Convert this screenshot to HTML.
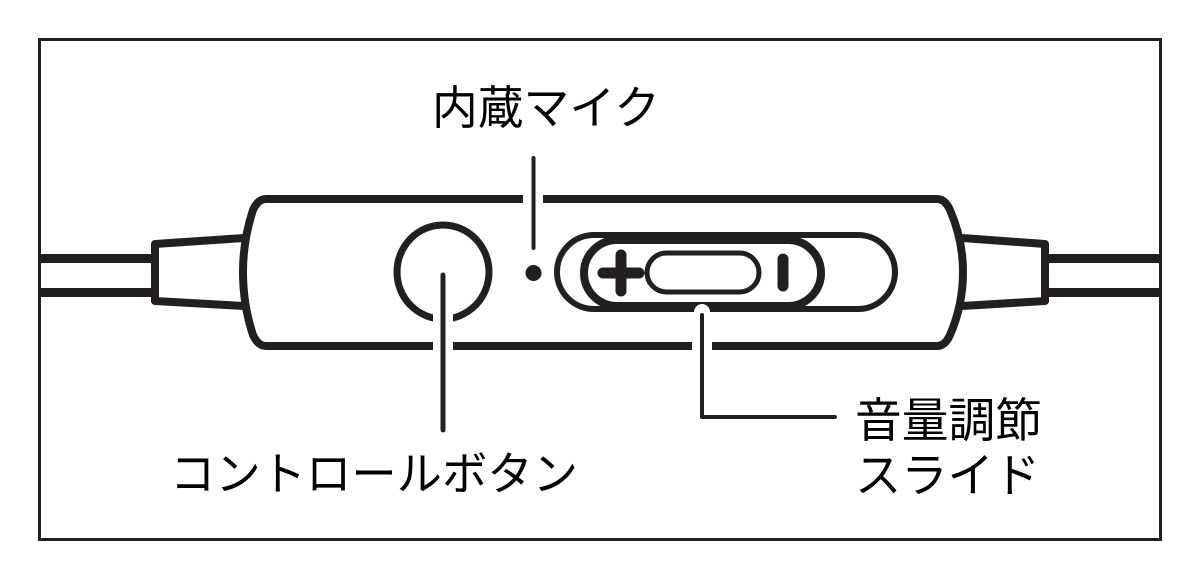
<!DOCTYPE html>
<html><head><meta charset="utf-8"><style>
html,body{margin:0;padding:0;background:#fff;}
svg{display:block;}
text{font-family:"Liberation Sans","Noto Sans CJK JP",sans-serif;fill:#000;}
</style></head><body>
<svg width="1200" height="579" viewBox="0 0 1200 579" xmlns="http://www.w3.org/2000/svg">
<rect x="39.5" y="39.5" width="1121" height="500" fill="none" stroke="#231f20" stroke-width="3"/>
<g stroke="#231f20" fill="none" stroke-linejoin="round">
<!-- cables -->
<line x1="38" y1="258.5" x2="155" y2="258.5" stroke-width="9"/>
<line x1="38" y1="292.5" x2="155" y2="292.5" stroke-width="9"/>
<line x1="1045" y1="258.5" x2="1162" y2="258.5" stroke-width="9"/>
<line x1="1045" y1="292.5" x2="1162" y2="292.5" stroke-width="9"/>
<!-- connectors -->
<path d="M244,238 L155,244 L155,301 L244,306" stroke-width="8"/>
<path d="M962,238 L1045,244 L1045,301 L962,306" stroke-width="8"/>
<!-- body -->
<path d="M266,199 L937,199 Q945,199 950,210 Q963,240 963,272 Q963,305 950,335 Q945,346 937,346 L266,346 Q258,346 253,335 Q243,305 243,272 Q243,240 253,210 Q258,199 266,199 Z" fill="#fff" stroke-width="8"/>
</g>
<!-- gaps -->
<rect x="523" y="192" width="20" height="14" fill="#fff"/>
<rect x="433" y="338" width="20" height="14" fill="#fff"/>
<rect x="692" y="338" width="20" height="14" fill="#fff"/>
<g stroke="#231f20" fill="none" stroke-linecap="round">
<!-- control button -->
<ellipse cx="443" cy="272" rx="46" ry="47" stroke-width="7"/>
</g>
<rect x="433" y="312" width="20" height="14" fill="#fff"/>
<g stroke="#231f20" fill="none" stroke-linecap="round">
<line x1="443" y1="275" x2="443" y2="430" stroke-width="5"/>
<!-- mic -->
<line x1="533.5" y1="158" x2="533.5" y2="248" stroke-width="4"/>
<!-- slider -->
<rect x="557" y="235" width="338" height="74" rx="37" stroke-width="6"/>
<rect x="584" y="240" width="237" height="66" rx="33" stroke-width="8" fill="#fff"/>
<line x1="603" y1="273" x2="639" y2="273" stroke-width="11"/>
<line x1="621" y1="255" x2="621" y2="291" stroke-width="11"/>
<rect x="647" y="253" width="112" height="39" rx="19.5" stroke-width="5"/>
<line x1="783" y1="259" x2="783" y2="286" stroke-width="11"/>
</g>
<circle cx="533.5" cy="273" r="8" fill="#231f20"/>
<circle cx="702" cy="312" r="8" fill="#fff"/>
<path d="M702,315 L702,417 L835,417" stroke="#231f20" stroke-width="4" fill="none" stroke-linecap="round" stroke-linejoin="round"/>
<text x="432" y="124" font-size="46" textLength="228" lengthAdjust="spacingAndGlyphs">内蔵マイク</text>
<text x="170" y="490" font-size="46" textLength="408" lengthAdjust="spacingAndGlyphs">コントロールボタン</text>
<text x="855" y="437" font-size="47" textLength="187" lengthAdjust="spacingAndGlyphs">音量調節</text>
<text x="855" y="492" font-size="47" textLength="185" lengthAdjust="spacingAndGlyphs">スライド</text>
</svg>
</body></html>
